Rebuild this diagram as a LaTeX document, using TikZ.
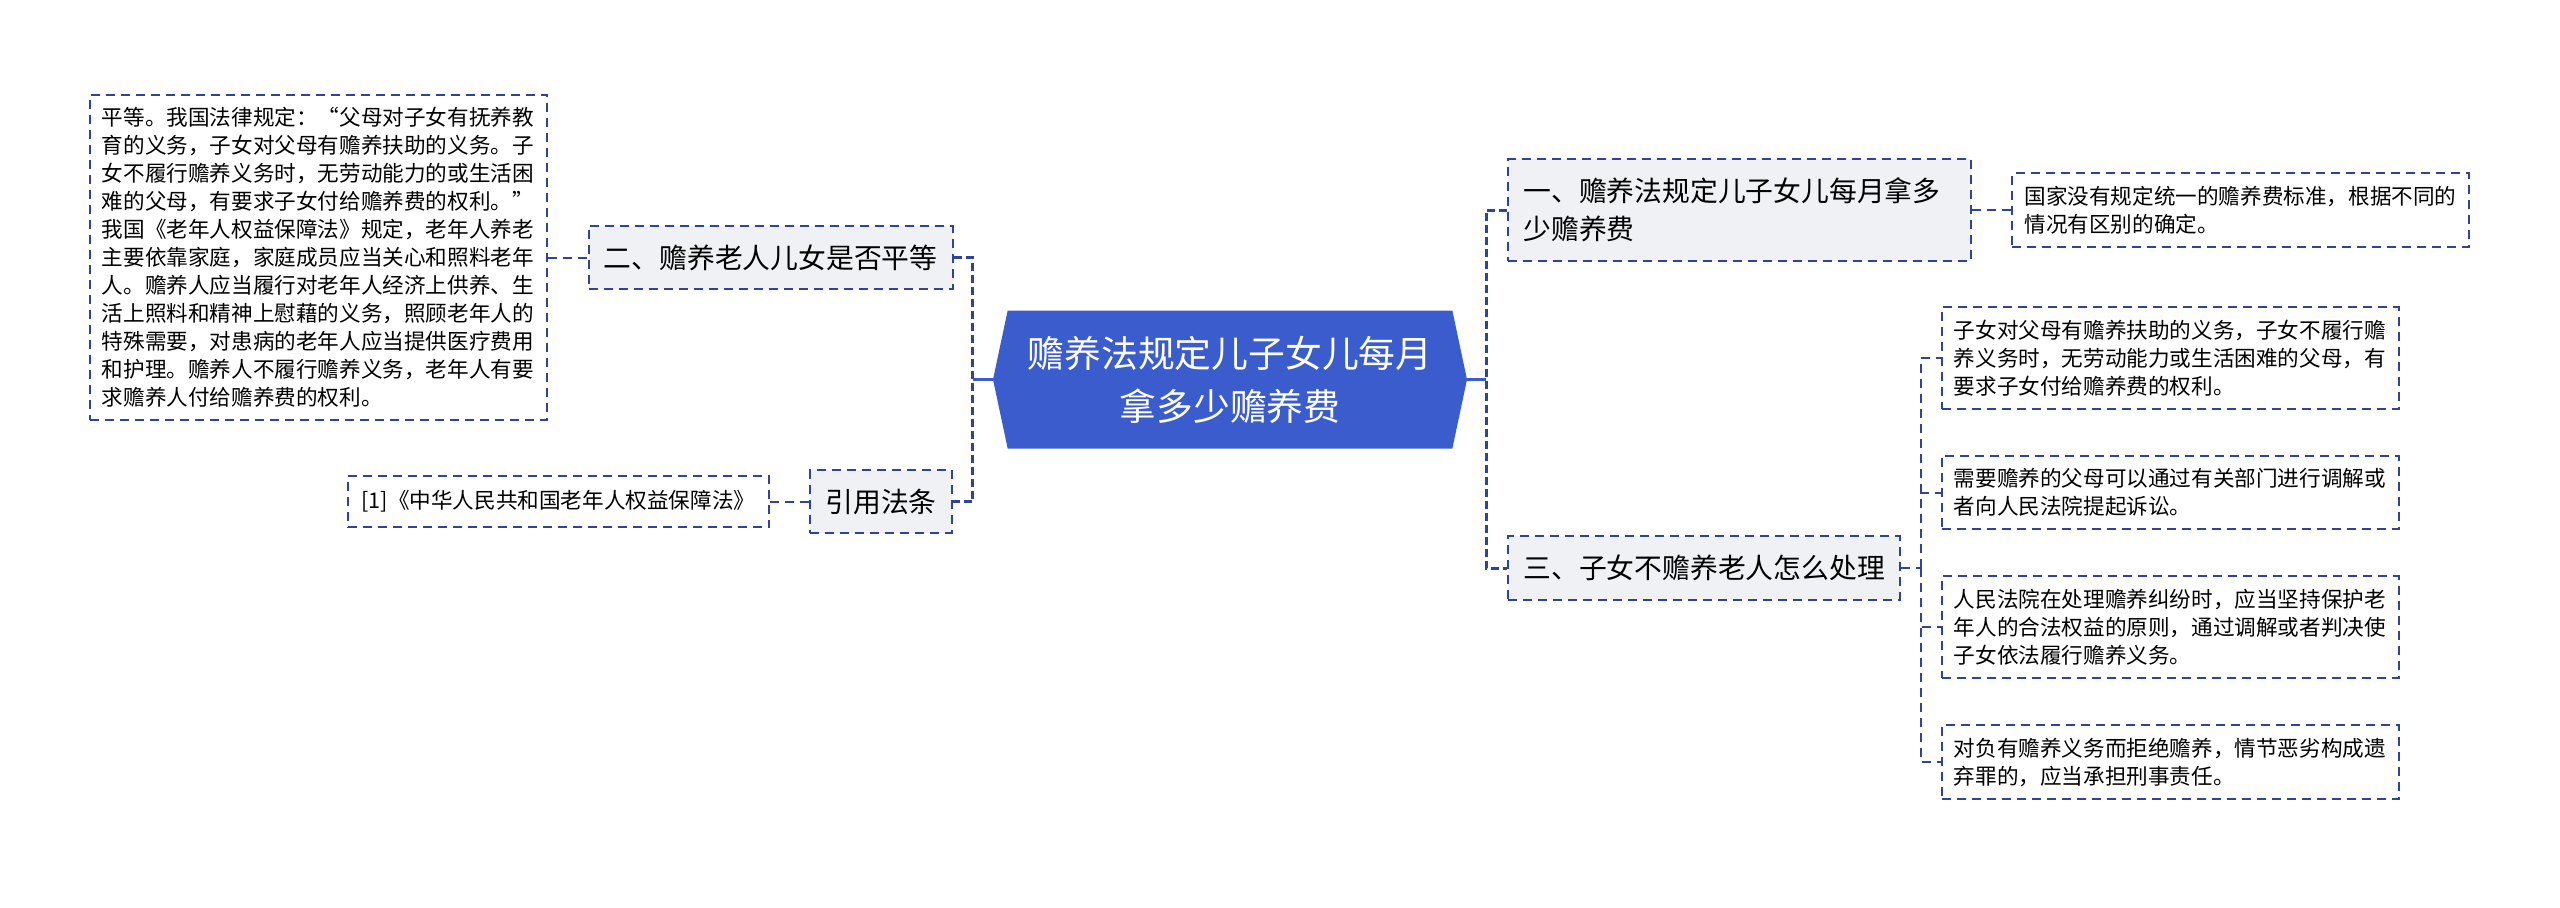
\documentclass[tikz,border=0pt]{standalone}
\usepackage{fontspec}
\setmainfont{Noto Sans CJK SC}
\usetikzlibrary{positioning,shapes.symbols}

\definecolor{hubblue}{RGB}{59,92,204}
\definecolor{edgeblue}{RGB}{45,68,155}
\definecolor{topicgray}{RGB}{239,241,245}

\begin{document}
\begin{tikzpicture}[
  x=0.5pt, y=-0.5pt, node distance=22.5pt and 20pt,
  hub/.style={signal, signal to=west and east, signal pointer angle=156,
              fill=hubblue, text=white, align=center, minimum width=237pt,
              minimum height=69pt, inner xsep=0pt,
              font=\fontsize{18.4pt}{26.5pt}\selectfont},
  dashbox/.style={draw=edgeblue, line width=1pt, dash pattern=on 4.5pt off 3pt},
  topic/.style={dashbox, fill=topicgray, inner xsep=7.5pt, inner ysep=9.3pt,
                align=left, font=\fontsize{13.9pt}{19pt}\selectfont},
  note/.style={dashbox, text width=216.5pt, inner xsep=6pt, inner ysep=6.35pt,
               align=left, font=\fontsize{10.8pt}{14pt}\selectfont},
  bus/.style={draw=edgeblue, line width=1.5pt, dash pattern=on 4pt off 2pt},
  twig/.style={draw=edgeblue, line width=1pt, dash pattern=on 4.5pt off 3pt},
  stem/.style={draw=hubblue, line width=1.5pt},
]
  \useasboundingbox (0,0) rectangle (2560,907);

  \node[hub] (root) at (1230,379.5) {赡养法规定儿子女儿每月\\拿多少赡养费};

  % left branch
  \node[topic, anchor=east] (equal) at ([xshift=-19.5pt, yshift=61pt]root.west)
        {二、赡养老人儿女是否平等};
  \node[topic, anchor=east] (cite) at ([xshift=-20pt, yshift=-61pt]root.west)
        {引用法条};
  \node[note, left=20pt of equal] (equalnote)
        {平等。我国法律规定：“父母对子女有抚养教\\育的义务，子女对父母有赡养扶助的义务。子\\
         女不履行赡养义务时，无劳动能力的或生活困\\难的父母，有要求子女付给赡养费的权利。”\\
         我国《老年人权益保障法》规定，老年人养老\\主要依靠家庭，家庭成员应当关心和照料老年\\
         人。赡养人应当履行对老年人经济上供养、生\\活上照料和精神上慰藉的义务，照顾老年人的\\
         特殊需要，对患病的老年人应当提供医疗费用\\和护理。赡养人不履行赡养义务，老年人有要\\
         求赡养人付给赡养费的权利。};
  \node[dashbox, inner xsep=7pt, inner ysep=7.2pt,
        font=\fontsize{10.8pt}{14pt}\selectfont, left=19.5pt of cite] (law)
        {[1]《中华人民共和国老年人权益保障法》};

  % right branch
  \node[topic, text width=216.5pt, anchor=west] (amount)
        at ([xshift=20pt, yshift=84.75pt]root.east)
        {一、赡养法规定儿子女儿每月拿多\\少赡养费};
  \node[topic, anchor=west] (refuse) at ([xshift=20pt, yshift=-94.25pt]root.east)
        {三、子女不赡养老人怎么处理};
  \node[note, right=19.5pt of amount] (amountnote)
        {国家没有规定统一的赡养费标准，根据不同的\\情况有区别的确定。};
  \node[note, anchor=west] (duty) at ([xshift=20pt, yshift=105pt]refuse.east)
        {子女对父母有赡养扶助的义务，子女不履行赡\\养义务时，无劳动能力或生活困难的父母，有\\要求子女付给赡养费的权利。};
  \node[note, below=of duty] (mediate)
        {需要赡养的父母可以通过有关部门进行调解或\\者向人民法院提起诉讼。};
  \node[note, below=of mediate] (court)
        {人民法院在处理赡养纠纷时，应当坚持保护老\\年人的合法权益的原则，通过调解或者判决使\\子女依法履行赡养义务。};
  \node[note, below=of court] (crime)
        {对负有赡养义务而拒绝赡养，情节恶劣构成遗\\弃罪的，应当承担刑事责任。};

  % connectors
  \coordinate (lhub) at ([xshift=-10pt]root.west);
  \coordinate (rhub) at ([xshift=9.5pt]root.east);
  \coordinate (fork) at ([xshift=10pt]refuse.east);
  \draw[stem] (root.west) -- (lhub);
  \draw[stem] (root.east) -- (rhub);
  \draw[bus] (equal.east) -| (lhub) |- (cite.east);
  \draw[bus] (amount.west) -| (rhub) |- (refuse.west);
  \draw[twig] (equalnote.east |- equal.west) -- (equal.west);
  \draw[twig] (law.east) -- (cite.west);
  \draw[twig] (amount.east) -- (amountnote.west);
  \draw[twig] (refuse.east) -- (fork);
  \foreach \leaf in {duty,mediate,court,crime}
    \draw[twig] (fork) |- (\leaf.west);
\end{tikzpicture}
\end{document}
